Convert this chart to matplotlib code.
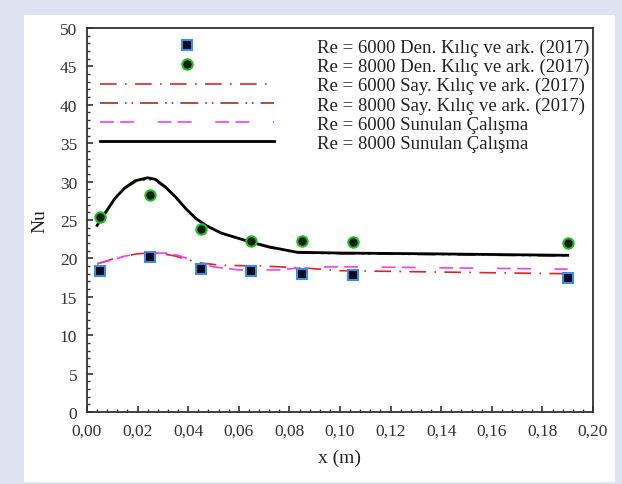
import matplotlib
matplotlib.use("Agg")
import matplotlib.pyplot as plt
from matplotlib.patches import Rectangle
from matplotlib.ticker import MultipleLocator, FuncFormatter

plt.rcParams['font.family'] = ['Liberation Serif', 'DejaVu Serif']
plt.rcParams['lines.scale_dashes'] = False

# experimental points (Kılıç ve ark. 2017)
x_exp = [0.005, 0.025, 0.045, 0.065, 0.085, 0.105, 0.19]
nu_exp_6000 = [18.4, 20.2, 18.6, 18.3, 18.0, 17.8, 17.4]
nu_exp_8000 = [25.4, 28.2, 23.8, 22.3, 22.3, 22.2, 22.0]

# numerical, Kılıç ve ark. (2017)
x_say6 = [0.004, 0.010, 0.015, 0.020, 0.025, 0.030, 0.035, 0.040, 0.045,
          0.053, 0.070, 0.088, 0.100, 0.190]
nu_say_6000 = [19.3, 19.9, 20.3, 20.6, 20.7, 20.6, 20.3, 19.8, 19.4,
               19.1, 19.0, 18.7, 18.4, 18.0]
x_say8 = [0.004, 0.007, 0.011, 0.015, 0.019, 0.024, 0.027, 0.031, 0.035,
          0.039, 0.043, 0.047, 0.053, 0.064, 0.072, 0.083, 0.100, 0.135,
          0.190]
nu_say_8000 = [24.5, 25.9, 27.8, 29.1, 29.9, 30.3, 30.1, 29.2, 27.9,
               26.5, 25.2, 24.3, 23.3, 22.1, 21.4, 20.7, 20.6, 20.5,
               20.3]

# present study
x_sun6 = [0.004, 0.010, 0.015, 0.020, 0.025, 0.031, 0.036, 0.043, 0.050,
          0.060, 0.076, 0.088, 0.105, 0.190]
nu_sun_6000 = [19.3, 19.8, 20.3, 20.6, 20.7, 20.7, 20.4, 19.6, 18.9,
               18.5, 18.5, 18.9, 18.9, 18.6]
x_sun8 = [0.004, 0.007, 0.011, 0.015, 0.019, 0.024, 0.027, 0.031, 0.035,
          0.039, 0.043, 0.047, 0.053, 0.064, 0.072, 0.083, 0.100, 0.135,
          0.190]
nu_sun_8000 = [24.3, 25.8, 27.8, 29.2, 30.1, 30.5, 30.3, 29.3, 28.0,
               26.5, 25.2, 24.3, 23.3, 22.2, 21.5, 20.8, 20.7, 20.6,
               20.4]

labels = ["Re = 6000 Den. Kılıç ve ark. (2017)",
          "Re = 8000 Den. Kılıç ve ark. (2017)",
          "Re = 6000 Say. Kılıç ve ark. (2017)",
          "Re = 8000 Say. Kılıç ve ark. (2017)",
          "Re = 6000 Sunulan Çalışma",
          "Re = 8000 Sunulan Çalışma"]

fig = plt.figure(figsize=(6.22, 4.85), dpi=100)
fig.patch.set_facecolor('#dfe3f1')
fig.patches.append(Rectangle((24/622, 2/485), 591/622, 467/485,
                             transform=fig.transFigure, facecolor='white',
                             edgecolor='none', zorder=-10))
ax = fig.add_axes([87/622, 72/485, 506/622, 384/485])

h1, = ax.plot(x_exp, nu_exp_6000, ls='none', marker='s', ms=7.5,
              mfc='#0a0a1a', mec='#3a8ee6', mew=1.5, zorder=5)
h2, = ax.plot(x_exp, nu_exp_8000, ls='none', marker='o', ms=7.5,
              mfc='#0a1a0a', mec='#22c022', mew=1.5, zorder=5)
h3, = ax.plot(x_say6, nu_say_6000, color='#e02424', lw=1.2,
              dashes=(12, 6, 1.2, 6))
h4, = ax.plot(x_say8, nu_say_8000, color='#9a3030', lw=1.2,
              dashes=(13, 5, 1.2, 3.5, 1.2, 5))
h5, = ax.plot(x_sun6, nu_sun_6000, color='#f040f0', lw=1.2,
              dashes=(10, 4.5, 10, 17))
h6, = ax.plot(x_sun8, nu_sun_8000, color='black', lw=2.0, zorder=4)

ax.set_xlim(0, 0.20)
ax.set_ylim(0, 50)
ax.xaxis.set_major_locator(MultipleLocator(0.02))
ax.xaxis.set_minor_locator(MultipleLocator(0.004))
ax.yaxis.set_major_locator(MultipleLocator(5))
ax.yaxis.set_minor_locator(MultipleLocator(1))
ax.xaxis.set_major_formatter(FuncFormatter(lambda v, p: f"{v:.2f}".replace('.', ',')))
ax.tick_params(which='both', direction='in', top=False, right=False,
               labelsize=12.5, colors='#333333', labelcolor='#333333')
ax.tick_params(which='major', length=4, width=1.2)
ax.tick_params(axis='x', which='major', pad=8)
ax.tick_params(axis='y', which='major', pad=7)
ax.tick_params(which='minor', length=2.5, width=1.0)
for s in ax.spines.values():
    s.set_linewidth(1.3)
    s.set_color('#333333')

ax.set_xlabel("x (m)", fontsize=14, color='#222222', labelpad=7)
ax.set_ylabel("Nu", fontsize=14, color='#222222', labelpad=8)

leg = ax.legend([h1, h2, h3, h4, h5, h6], labels, loc='upper right',
                bbox_to_anchor=(1.012, 0.997), frameon=False, fontsize=13.5,
                numpoints=1, handlelength=9.3, handletextpad=2.3,
                labelspacing=0.105, borderaxespad=0.25, borderpad=0.25)
for t in leg.get_texts():
    t.set_color('#222222')

fig.savefig("out.png", dpi=100, facecolor=fig.get_facecolor())
